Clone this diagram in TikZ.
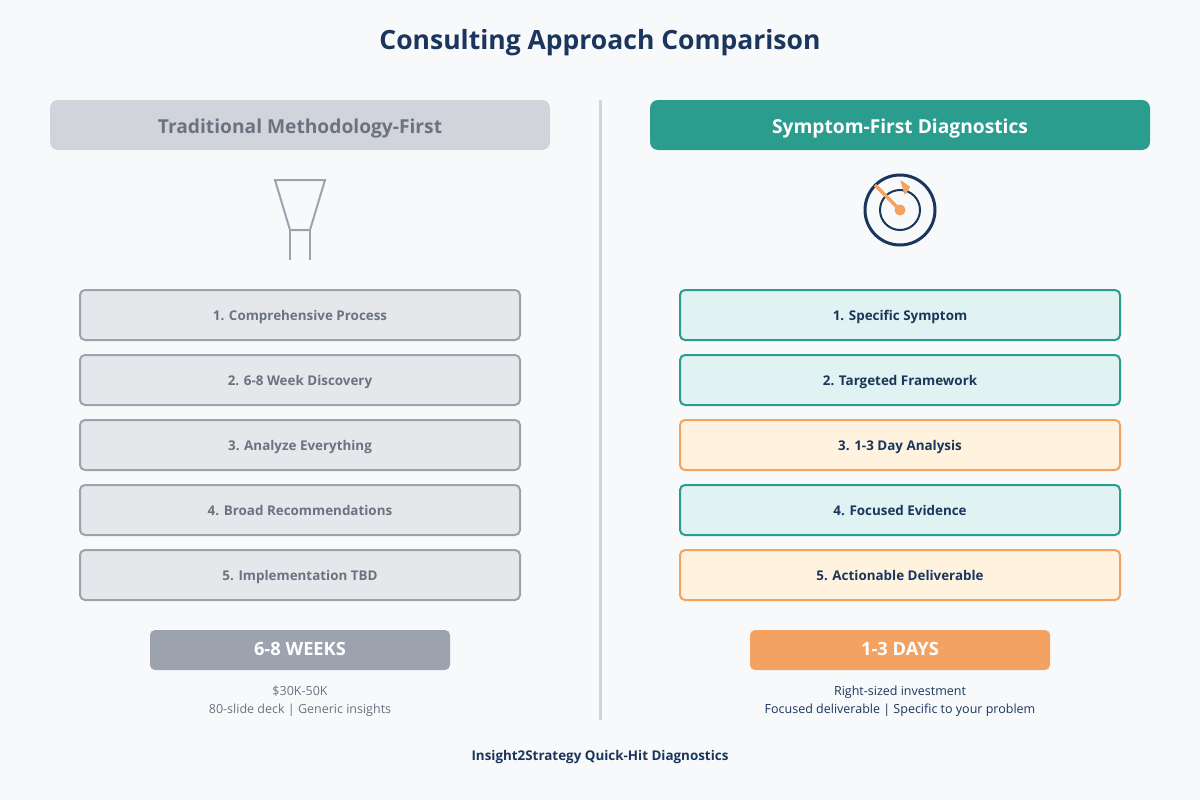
\documentclass[tikz,border=0pt]{standalone}
\usepackage{fontspec}
\setmainfont{Open Sans}
\definecolor{bgc}{HTML}{F8F9FB}
\definecolor{navy}{HTML}{1A365D}
\definecolor{teal}{HTML}{2A9D8F}
\definecolor{orng}{HTML}{F4A261}
\definecolor{gmid}{HTML}{9CA3AF}
\definecolor{glight}{HTML}{D1D5DB}
\definecolor{gbox}{HTML}{E5E7EB}
\definecolor{gtext}{HTML}{6B7280}
\definecolor{ltteal}{HTML}{E0F2F1}
\definecolor{ltorng}{HTML}{FFF3E0}
\tikzset{
  x=1pt,y=-1pt,
  fs/.style={font=\fontsize{#1}{#1}\selectfont},
  fsb/.style={font=\fontsize{#1}{#1}\selectfont\bfseries},
  header/.style={minimum width=500pt,minimum height=50pt,inner sep=0pt,rounded corners=8pt,fsb=19.2,text height=16pt,text depth=0pt},
  stepbase/.style={minimum width=440pt,minimum height=50pt,inner sep=0pt,rounded corners=5pt,line width=2pt,fsb=13.4,text height=11pt,text depth=0pt},
  greystep/.style={stepbase,draw=gmid,fill=gbox,text=gtext},
  tealstep/.style={stepbase,draw=teal,fill=ltteal,text=navy},
  orngstep/.style={stepbase,draw=orng,fill=ltorng,text=navy},
  pill/.style={minimum width=300pt,minimum height=40pt,inner sep=0pt,rounded corners=5pt,fsb=18.3,text=white,text height=10pt,text depth=0pt},
  note/.style={inner sep=0pt,anchor=base,fs=12.5},
}
\begin{document}
\begin{tikzpicture}
\fill[bgc] (0,0) rectangle (1200,800);
\useasboundingbox (0,0) rectangle (1200,800);
\node[fsb=26.5,text=navy,inner sep=0pt,anchor=base] (title) at (600,50) {Consulting Approach Comparison};
\draw[glight,line width=3pt] (600,100) -- (600,720);
% headers
\node[header,fill=glight,text=gtext] (lhead) at (300,125) {Traditional Methodology-First};
\node[header,fill=teal,text=white] (rhead) at (900,125) {Symptom-First Diagnostics};
% funnel icon
\draw[gmid,line width=2pt] (275,180) -- (325,180) -- (310,230) -- (290,230) -- cycle;
\draw[gmid,line width=2pt] (290,230) -- (290,260) (310,230) -- (310,260);
% radar icon
\draw[navy,line width=3pt] (900,210) circle[radius=35];
\draw[navy,line width=2pt] (900,210) circle[radius=20];
\draw[orng,line width=3.4pt] (900,210) -- (875,185);
\filldraw[orng,line width=1pt] (900,210) circle[radius=5];
\filldraw[orng,line width=1pt,line join=round] (901,181) -- (909.5,187) -- (905,194) -- cycle;
% left steps
\node[greystep] (l1) at (300,315) {1. Comprehensive Process};
\node[greystep] (l2) at (300,380) {2. 6-8 Week Discovery};
\node[greystep] (l3) at (300,445) {3. Analyze Everything};
\node[greystep] (l4) at (300,510) {4. Broad Recommendations};
\node[greystep] (l5) at (300,575) {5. Implementation TBD};
% right steps
\node[tealstep] (r1) at (900,315) {1. Specific Symptom};
\node[tealstep] (r2) at (900,380) {2. Targeted Framework};
\node[orngstep] (r3) at (900,445) {3. 1-3 Day Analysis};
\node[tealstep] (r4) at (900,510) {4. Focused Evidence};
\node[orngstep] (r5) at (900,575) {5. Actionable Deliverable};
% pills
\node[pill,fill=gmid] (lpill) at (300,650) {6-8 WEEKS};
\node[pill,fill=orng] (rpill) at (900,650) {1-3 DAYS};
% notes
\node[note,text=gtext] (ln1) at (300,695) {\$30K-50K};
\node[note,text=gtext] (ln2) at (300,713) {80-slide deck | Generic insights};
\node[note,text=navy] (rn1) at (900,695) {Right-sized investment};
\node[note,text=navy] (rn2) at (900,713) {Focused deliverable | Specific to your problem};
\node[fsb=13.4,text=navy,inner sep=0pt,anchor=base] (foot) at (600,760) {Insight2Strategy Quick-Hit Diagnostics};
\end{tikzpicture}
\end{document}
